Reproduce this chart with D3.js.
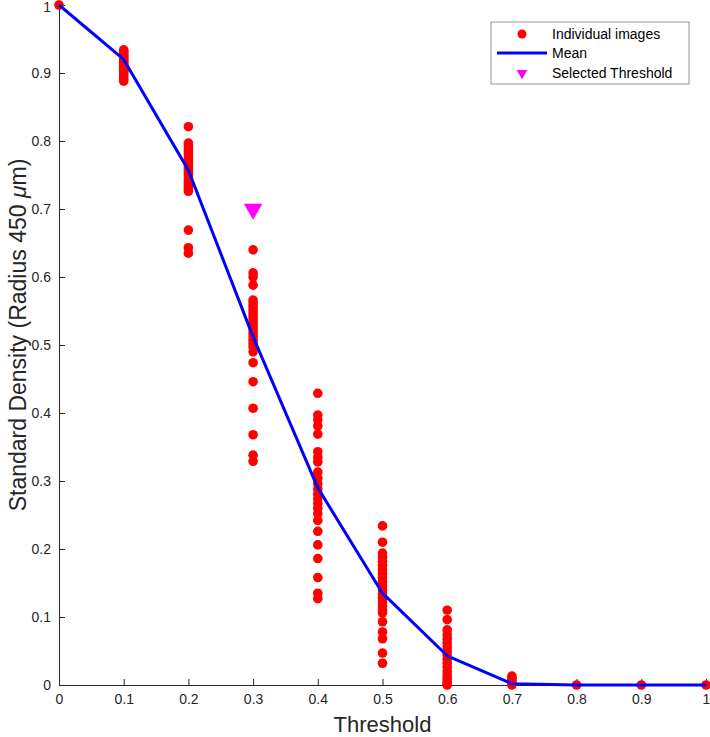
<!DOCTYPE html>
<html>
<head>
<meta charset="utf-8">
<script src="https://cdn.jsdelivr.net/npm/d3@7"></script>
<style>
  html, body { margin: 0; padding: 0; background: #fff; }
  svg { display: block; font-family: "Liberation Sans", Arial, Helvetica, sans-serif; }
</style>
</head>
<body>
<svg id="chart" width="710" height="737"></svg>
<script>
const thresholds = [0, 0.1, 0.2, 0.3, 0.4, 0.5, 0.6, 0.7, 0.8, 0.9, 1];
const meanDensity = [1, 0.92, 0.757, 0.512, 0.29, 0.135, 0.043, 0.002, 0, 0, 0];
const imageDensity = [
  [1],
  [0.934,0.932,0.930,0.928,0.926,0.924,0.922,0.920,0.918,0.916,0.914,0.912,0.910,0.908,0.906,0.904,0.902,0.900,0.897,0.894,0.891,0.888],
  [0.821,0.797,0.794,0.790,0.786,0.782,0.778,0.774,0.770,0.766,0.762,0.758,0.754,0.750,0.746,0.742,0.738,0.734,0.730,0.726,0.669,0.643,0.635],
  [0.640,0.606,0.600,0.588,0.566,0.562,0.557,0.552,0.547,0.542,0.537,0.532,0.527,0.522,0.517,0.512,0.507,0.502,0.497,0.490,0.474,0.446,0.407,0.368,0.338,0.329],
  [0.429,0.397,0.390,0.381,0.369,0.343,0.335,0.328,0.313,0.304,0.296,0.288,0.281,0.274,0.267,0.260,0.252,0.242,0.226,0.206,0.186,0.158,0.135,0.127],
  [0.234,0.210,0.194,0.188,0.182,0.176,0.170,0.164,0.158,0.152,0.146,0.140,0.134,0.128,0.122,0.116,0.110,0.106,0.093,0.078,0.068,0.047,0.032],
  [0.110,0.096,0.081,0.074,0.068,0.062,0.056,0.050,0.044,0.038,0.032,0.026,0.020,0.015,0.010,0.006,0.003,0.001,0],
  [0.013,0.010,0.007,0.004,0.002,0.001,0],
  [0],
  [0],
  [0]
];
const selectedThreshold = [0.3];
const selectedValue = [0.70];
const xTicks = [0,0.1,0.2,0.3,0.4,0.5,0.6,0.7,0.8,0.9,1];
const yTicks = [0,0.1,0.2,0.3,0.4,0.5,0.6,0.7,0.8,0.9,1];
const legendLabels = ["Individual images", "Mean", "Selected Threshold"];

const W = 710, H = 737;
const margin = {left: 59, top: 5, right: 4, bottom: 52};
const svg = d3.select("#chart");
const x = d3.scaleLinear().domain([0, 1]).range([margin.left, W - margin.right]);
const y = d3.scaleLinear().domain([0, 1]).range([H - margin.bottom, margin.top]);
const axisColor = "#262626";
const fmt = d => d3.format("~g")(d);

// axes
const gx = svg.append("g").attr("transform", `translate(0,${y(0)})`)
  .call(d3.axisBottom(x).tickValues(xTicks).tickFormat(fmt).tickSizeInner(-6).tickSizeOuter(0).tickPadding(9));
const gy = svg.append("g").attr("transform", `translate(${x(0)},0)`)
  .call(d3.axisLeft(y).tickValues(yTicks).tickFormat(fmt).tickSizeInner(-6).tickSizeOuter(0).tickPadding(8));
[gx, gy].forEach(g => {
  g.select(".domain").attr("stroke", axisColor).attr("stroke-width", 1);
  g.selectAll(".tick line").attr("stroke", axisColor).attr("stroke-width", 1);
  g.selectAll(".tick text").attr("fill", axisColor).style("font-size", "14px")
    .style("font-family", "'Liberation Sans', Arial, sans-serif");
});
// keep the top label inside the picture
gy.selectAll(".tick text").filter(d => d === 1).attr("dy", "0.45em");

// points
const pts = [];
thresholds.forEach((t, i) => imageDensity[i].forEach(v => pts.push([t, v])));
svg.append("g").selectAll("circle").data(pts).join("circle")
  .attr("cx", d => x(d[0])).attr("cy", d => y(d[1])).attr("r", 4.8)
  .attr("fill", "#ff0000");

// mean line
const line = d3.line().x((d, i) => x(thresholds[i])).y(d => y(d));
svg.append("path").datum(meanDensity).attr("d", line)
  .attr("fill", "none").attr("stroke", "#0000ff").attr("stroke-width", 3)
  .attr("stroke-linejoin", "round");

// selected threshold
const tri = d3.symbol().type(d3.symbolTriangle).size(150);
svg.append("g").selectAll("path").data(selectedThreshold).join("path")
  .attr("d", tri)
  .attr("transform", (d, i) => `translate(${x(d)},${y(selectedValue[i])}) rotate(180)`)
  .attr("fill", "#ff00ff");

// axis labels
svg.append("text").attr("x", x(0.5)).attr("y", 732).attr("text-anchor", "middle")
  .attr("fill", axisColor).style("font-size", "22px").text("Threshold");
const yl = svg.append("text").attr("transform", `translate(26,335) rotate(-90)`)
  .attr("text-anchor", "middle").attr("fill", axisColor).style("font-size", "23px");
yl.append("tspan").text("Standard Density (Radius 450 ");
yl.append("tspan").style("font-style", "italic").text("μ");
yl.append("tspan").text("m)");

// legend
const lg = svg.append("g").attr("transform", "translate(491,22)");
lg.append("rect").attr("width", 198).attr("height", 62).attr("fill", "#fff")
  .attr("stroke", "#7a7a7a").attr("stroke-width", 0.8);
const rows = [12, 31, 51];
lg.append("circle").attr("cx", 31).attr("cy", rows[0]).attr("r", 4.5).attr("fill", "#ff0000");
lg.append("line").attr("x1", 6).attr("x2", 56).attr("y1", rows[1]).attr("y2", rows[1])
  .attr("stroke", "#0000ff").attr("stroke-width", 3);
lg.append("path").attr("d", d3.symbol().type(d3.symbolTriangle).size(50))
  .attr("transform", `translate(31,${rows[2]}) rotate(180)`).attr("fill", "#ff00ff");
lg.selectAll("text.lt").data(legendLabels).join("text").attr("class", "lt")
  .attr("x", 61).attr("y", (d, i) => rows[i]).attr("dy", "0.36em")
  .attr("fill", "#000").style("font-size", "14px").text(d => d);
</script>
</body>
</html>
